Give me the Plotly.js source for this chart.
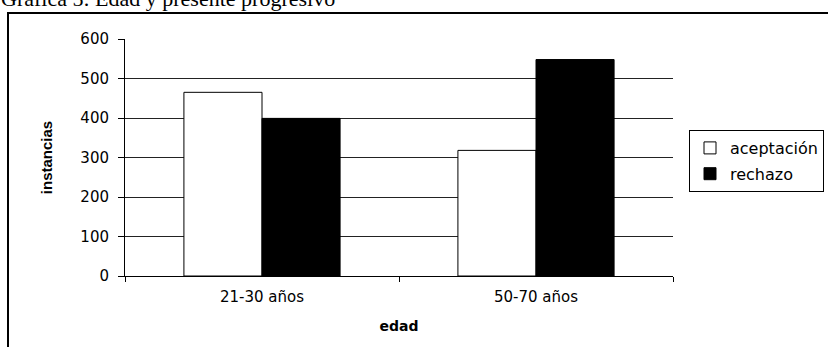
<!DOCTYPE html>
<html>
<head>
<meta charset="utf-8">
<script src="https://cdn.plot.ly/plotly-3.0.1.min.js"></script>
<style>html,body{margin:0;padding:0;background:#fff;}#chart{width:828px;height:347px;}</style>
</head>
<body>
<div id="chart"></div>
<script>
// Data
const categories = ["21-30 años", "50-70 años"];
const aceptacion = [465, 318];
const rechazo = [399, 548];
const seriesNames = ["aceptación", "rechazo"];
const yTicks = [0, 100, 200, 300, 400, 500, 600];
const chartTitle = "Gráfica 5: Edad y presente progresivo";
const xTitle = "edad";
const yTitle = "instancias";

const W = 828, H = 347;
const M = {l: 125, r: 155, t: 39, b: 71};
const pw = W - M.l - M.r, ph = H - M.t - M.b;
const px = x => (x - M.l) / pw;
const py = y => (H - M.b - y) / ph;

const tickFont = {family: "DejaVu Sans", size: 15, color: "#000"};

const traces = [
  {type: "bar", name: seriesNames[0], x: categories, y: aceptacion, legendgroup: "a",
   marker: {color: "#ffffff", line: {color: "#000", width: 1}}, hoverinfo: "skip"},
  {type: "bar", name: seriesNames[1], x: categories, y: rechazo, legendgroup: "b",
   marker: {color: "#000000", line: {color: "#000", width: 1}}, hoverinfo: "skip"}
];

const layout = {
  width: W, height: H,
  margin: Object.assign({autoexpand: false}, M),
  paper_bgcolor: "#fff", plot_bgcolor: "#fff",
  barmode: "group", bargap: 0.43, bargroupgap: 0,
  showlegend: true,
  legend: {
    xref: "container", yref: "container",
    x: 689 / W, xanchor: "left", y: 1 - 130 / H, yanchor: "top",
    bordercolor: "#000", borderwidth: 1, bgcolor: "#fff",
    font: {family: "DejaVu Sans", size: 16, color: "#000"},
    traceorder: "grouped", tracegroupgap: 2
  },
  xaxis: {
    type: "category",
    showline: true, linecolor: "#000", linewidth: 1,
    ticks: "outside", ticklen: 5, tickcolor: "#000", tickson: "boundaries",
    tickfont: tickFont, ticklabelstandoff: 7,
    showgrid: false, zeroline: false,
    title: {text: xTitle, font: {family: "DejaVu Sans", size: 14, color: "#000", weight: "bold"}, standoff: 16}
  },
  yaxis: {
    range: [0, 600], tickvals: yTicks,
    showline: true, linecolor: "#000", linewidth: 1,
    ticks: "outside", ticklen: 6, tickcolor: "#000",
    tickfont: tickFont, ticklabelstandoff: 6,
    showgrid: true, gridcolor: "#222", gridwidth: 1, zeroline: false,
    title: {text: yTitle, font: {family: "Liberation Sans", size: 15, color: "#000", weight: "bold"}, standoff: 24}
  },
  annotations: [
    {text: chartTitle, xref: "paper", yref: "paper", x: px(-1), y: py(13),
     xanchor: "left", yanchor: "bottom", showarrow: false,
     font: {family: "Liberation Serif", size: 22, color: "#000"}}
  ],
  shapes: [
    {type: "rect", xref: "paper", yref: "paper", x0: px(8), x1: px(850), y0: py(13), y1: py(370),
     line: {color: "#000", width: 2}, fillcolor: "rgba(0,0,0,0)", layer: "below"}
  ]
};

Plotly.newPlot("chart", traces, layout, {staticPlot: true, displayModeBar: false});
</script>
</body>
</html>
